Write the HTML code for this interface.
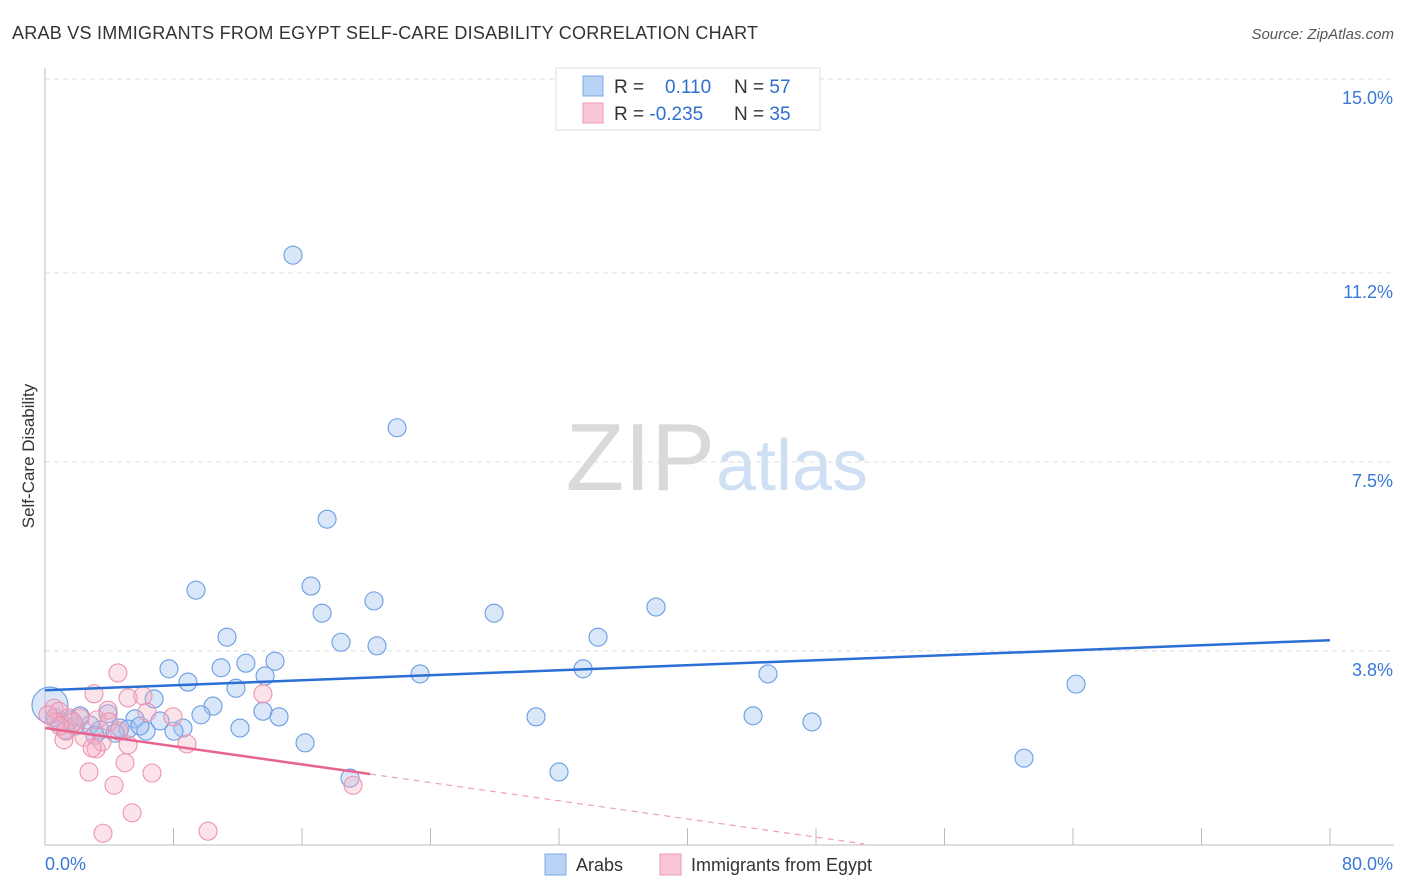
<!DOCTYPE html>
<html><head><meta charset="utf-8"><style>
body{margin:0;background:#fff;font-family:"Liberation Sans",sans-serif;}
#wrap{position:relative;width:1406px;height:892px;overflow:hidden;}
svg text{font-family:"Liberation Sans",sans-serif;}
</style></head><body>
<div id="wrap">
<svg id="chart" width="1406" height="892">
<text x="12" y="39" font-size="18" fill="#333" textLength="746">ARAB VS IMMIGRANTS FROM EGYPT SELF-CARE DISABILITY CORRELATION CHART</text>
<text x="1394" y="39" font-size="15" fill="#555" font-style="italic" text-anchor="end">Source: ZipAtlas.com</text>
<text x="0" y="0" transform="translate(34,456) rotate(-90)" font-size="17" fill="#333" text-anchor="middle">Self-Care Disability</text>
<text x="715" y="490" font-size="96" fill="#d9d9d9" font-family="Liberation Serif" text-anchor="end">ZIP</text>
<text x="716" y="490" font-size="72" fill="#cfe0f5">atlas</text>
<g id="grid"></g><g id="axes"></g><g id="pts"></g><g id="trend"></g>
<g>
<rect x="556" y="68" width="264" height="62" fill="#fff" stroke="#ddd"/>
<rect x="583" y="76" width="20" height="20" fill="#b9d3f5" stroke="#7eaae8"/>
<rect x="583" y="103" width="20" height="20" fill="#f8c6d6" stroke="#ec9ab3"/>
<text x="614" y="93" font-size="19" fill="#333">R = <tspan fill="#2f6fd0" x="665">0.110</tspan></text>
<text x="734" y="93" font-size="19" fill="#333">N = <tspan fill="#2f6fd0">57</tspan></text>
<text x="614" y="120" font-size="19" fill="#333">R = <tspan fill="#2f6fd0">-0.235</tspan></text>
<text x="734" y="120" font-size="19" fill="#333">N = <tspan fill="#2f6fd0">35</tspan></text>
</g>
<g>
<rect x="545" y="854" width="21" height="21" fill="#b9d3f5" stroke="#7eaae8"/>
<text x="576" y="871" font-size="18" fill="#333">Arabs</text>
<rect x="660" y="854" width="21" height="21" fill="#f8c6d6" stroke="#ec9ab3"/>
<text x="691" y="871" font-size="18" fill="#333">Immigrants from Egypt</text>
</g>
</svg></div>
<script>
const yTicks=[3.8,7.5,11.2,15.0];
const yTickLabels=["3.8%","7.5%","11.2%","15.0%"];
const xTickCount=10;
const arabsX=[15.44,21.92,17.56,9.40,16.56,17.25,20.48,27.96,38.04,11.33,18.43,20.67,34.43,7.72,10.96,12.51,14.32,23.35,33.50,45.01,8.90,11.89,13.70,64.19,6.79,10.46,9.71,13.57,14.57,30.57,44.08,47.75,5.60,3.92,7.16,8.59,12.14,8.03,6.29,4.67,5.17,2.80,3.42,1.56,0.93,1.87,16.19,60.95,32.00,18.99,0.62,1.25,3.11,4.36,5.91,2.18,0.31];
const arabsY=[11.55,8.17,6.38,4.99,5.07,4.54,4.78,4.54,4.66,4.07,3.97,3.90,4.07,3.45,3.47,3.56,3.60,3.35,3.45,3.35,3.19,3.07,3.31,3.15,2.86,2.72,2.55,2.62,2.51,2.51,2.53,2.41,2.47,2.57,2.43,2.29,2.29,2.23,2.23,2.29,2.27,2.35,2.25,2.45,2.41,2.33,2.00,1.70,1.43,1.31,2.49,2.25,2.15,2.19,2.33,2.53,2.74];
const egyptX=[4.54,3.05,0.56,0.87,5.17,6.10,6.35,3.92,13.57,7.97,1.49,2.18,3.24,3.98,4.61,1.31,0.68,2.43,1.18,3.18,5.17,8.84,4.98,2.74,6.66,4.30,19.18,5.42,3.61,10.15,1.74,0.93,0.19,3.55,2.93];
const egyptY=[3.37,2.96,2.68,2.62,2.88,2.92,2.60,2.64,2.96,2.51,2.49,2.49,2.45,2.41,2.23,2.23,2.41,2.11,2.06,1.88,1.96,1.98,1.61,1.43,1.41,1.17,1.17,0.63,0.23,0.27,2.41,2.33,2.55,2.02,1.90];
const arabsTrend=[3.03,4.01];        // y at x=0, y at x=80
const egyptTrend=[2.29,-0.0445];     // intercept, slope
const egyptSolidEnd=20.24, egyptDashEnd=51;
const X0=45,X1=1330,Y0=845,PPY=51.07;
const sx=v=>X0+v/80*(X1-X0), sy=v=>Y0-v*PPY;
const NS="http://www.w3.org/2000/svg";
function mk(tag,attrs,parent){const e=document.createElementNS(NS,tag);for(const k in attrs)e.setAttribute(k,attrs[k]);document.getElementById(parent).appendChild(e);return e;}
yTicks.forEach((t,i)=>{
 const l=mk('line',{x1:X0,x2:1394,y1:sy(t),y2:sy(t),stroke:'#ddd','stroke-dasharray':'5,4'},'grid');
 
 
 const tx=mk('text',{x:1393,y:sy(t)+25,'font-size':18,fill:'#3a78d8','text-anchor':'end'},'grid');
 tx.textContent=yTickLabels[i];
 
 
});
const ax=mk('line',{x1:X0,x2:X0,y1:68,y2:Y0,stroke:'#bbb'},'axes');


const bx=mk('line',{x1:X0,x2:1394,y1:Y0,y2:Y0,stroke:'#bbb'},'axes');


for(let i=1;i<=xTickCount;i++){
 const t=mk('line',{x1:sx(i*8),x2:sx(i*8),y1:828,y2:Y0,stroke:'#bbb'},'axes');
 
 
}
const xl=mk('text',{x:45,y:870,'font-size':18,fill:'#3a78d8'},'axes');xl.textContent='0.0%';


const xr=mk('text',{x:1393,y:870,'font-size':18,fill:'#3a78d8','text-anchor':'end'},'axes');xr.textContent='80.0%';


arabsX.forEach((x,i)=>{
 const c=mk('circle',{cx:sx(x),cy:sy(arabsY[i]),r:i===arabsX.length-1?18:9,fill:'rgba(160,195,240,0.4)',stroke:'#6a9de3','stroke-width':1.1},'pts');
 
 
});
egyptX.forEach((x,i)=>{
 const c=mk('circle',{cx:sx(x),cy:sy(egyptY[i]),r:9,fill:'rgba(245,175,195,0.35)',stroke:'#ec94ae','stroke-width':1.1},'pts');
 
 
});
const bl=mk('line',{x1:sx(0),y1:sy(arabsTrend[0]),x2:sx(80),y2:sy(arabsTrend[1]),stroke:'#2a6fd6','stroke-width':2.5},'trend');


const pe=x=>egyptTrend[0]+egyptTrend[1]*x;
const pl=mk('line',{x1:sx(0),y1:sy(pe(0)),x2:sx(egyptSolidEnd),y2:sy(pe(egyptSolidEnd)),stroke:'#e8648e','stroke-width':2.5},'trend');


const pd=mk('line',{x1:sx(egyptSolidEnd),y1:sy(pe(egyptSolidEnd)),x2:sx(egyptDashEnd),y2:sy(pe(egyptDashEnd)),stroke:'#eda0b8','stroke-width':1.2,'stroke-dasharray':'6,5'},'trend');


</script>
</body></html>
